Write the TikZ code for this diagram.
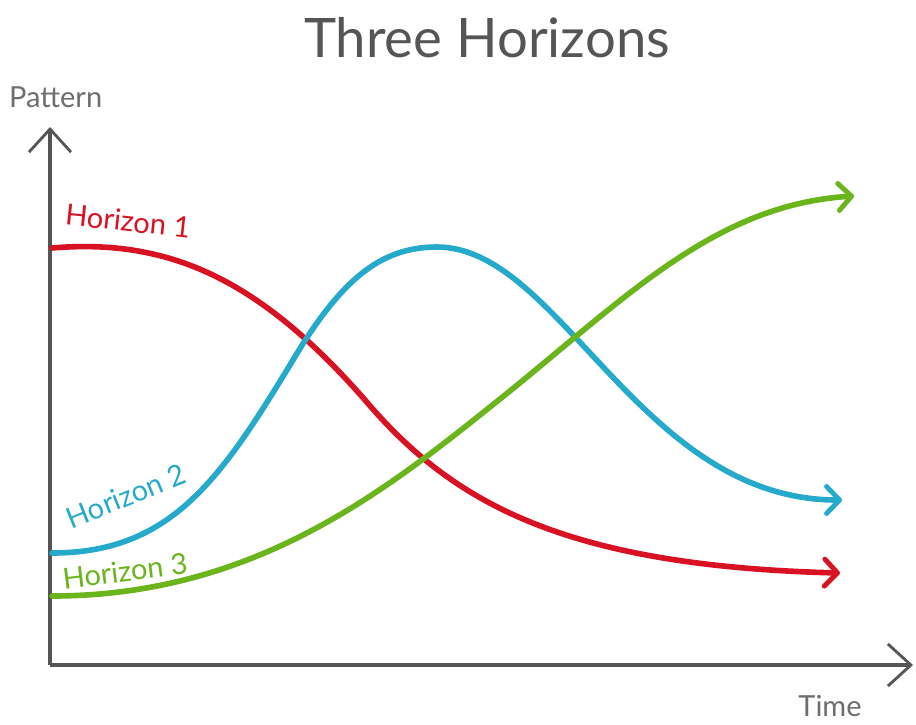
\documentclass[tikz,border=0pt]{standalone}
\usepackage{fontspec}
\setmainfont{Lato}
\usetikzlibrary{arrows.meta}
\definecolor{axisgray}{RGB}{85,85,85}
\definecolor{hred}{RGB}{216,18,34}
\definecolor{hblue}{RGB}{38,170,204}
\definecolor{hgreen}{RGB}{106,180,28}
\tikzset{
  axis/.style={draw=axisgray, line width=1.8pt, line join=round, -{Straight Barb[length=4.6mm,width=8.4mm,line width=1.6pt]}},
  horizon/.style={line width=3.2pt, line cap=round, -{Straight Barb[length=2.6mm,width=5.4mm,line width=2.8pt,line cap=round,line join=round]}},
  lbl/.style={font=\fontsize{16.5}{19}\selectfont}
}
\begin{document}
\begin{tikzpicture}[x=0.02cm,y=-0.02cm]
	\useasboundingbox (0,0) rectangle (916,724);
	\node[text=axisgray, font=\fontsize{31}{36}\selectfont] (title) at (487,38) {Three Horizons};
	\node[text=axisgray!85, lbl, anchor=west] (pattern) at (3,97) {Pattern};
	\node[text=axisgray!85, lbl] (time) at (830,706) {Time};

	\coordinate (origin) at (50,665);
	\coordinate (ytop) at (50,127);
	\coordinate (xend) at (913,665);
	\draw[axis] (origin) -- (ytop);
	\draw[axis] (origin) -- (xend);

	\coordinate (r0) at (52,248);
	\coordinate (r1) at (365,400);
	\coordinate (r2) at (840,573);
	\draw[horizon, hred] (r0) .. controls (170,238) and (260,280) .. (r1)
		.. controls (450,500) and (560,566) .. (r2);

	\coordinate (b0) at (52,553);
	\coordinate (b1) at (290,365);
	\coordinate (b2) at (437,247);
	\coordinate (b3) at (842,500);
	\draw[horizon, hblue] (b0) .. controls (170,553) and (220,480) .. (b1)
		.. controls (340,280) and (380,247) .. (b2)
		.. controls (560,247) and (640,500) .. (b3);

	\coordinate (g0) at (52,596);
	\coordinate (g1) at (490,407);
	\coordinate (g2) at (854,196);
	\draw[horizon, hgreen] (g0) .. controls (250,596) and (380,495) .. (g1)
		.. controls (620,304) and (710,205) .. (g2);

	\node[text=hred, lbl, rotate=-6] (h1) at (128,221) {Horizon 1};
	\node[text=hblue, lbl, rotate=22] (h2) at (126,496) {Horizon 2};
	\node[text=hgreen, lbl, rotate=7] (h3) at (125,571) {Horizon 3};
\end{tikzpicture}
\end{document}
